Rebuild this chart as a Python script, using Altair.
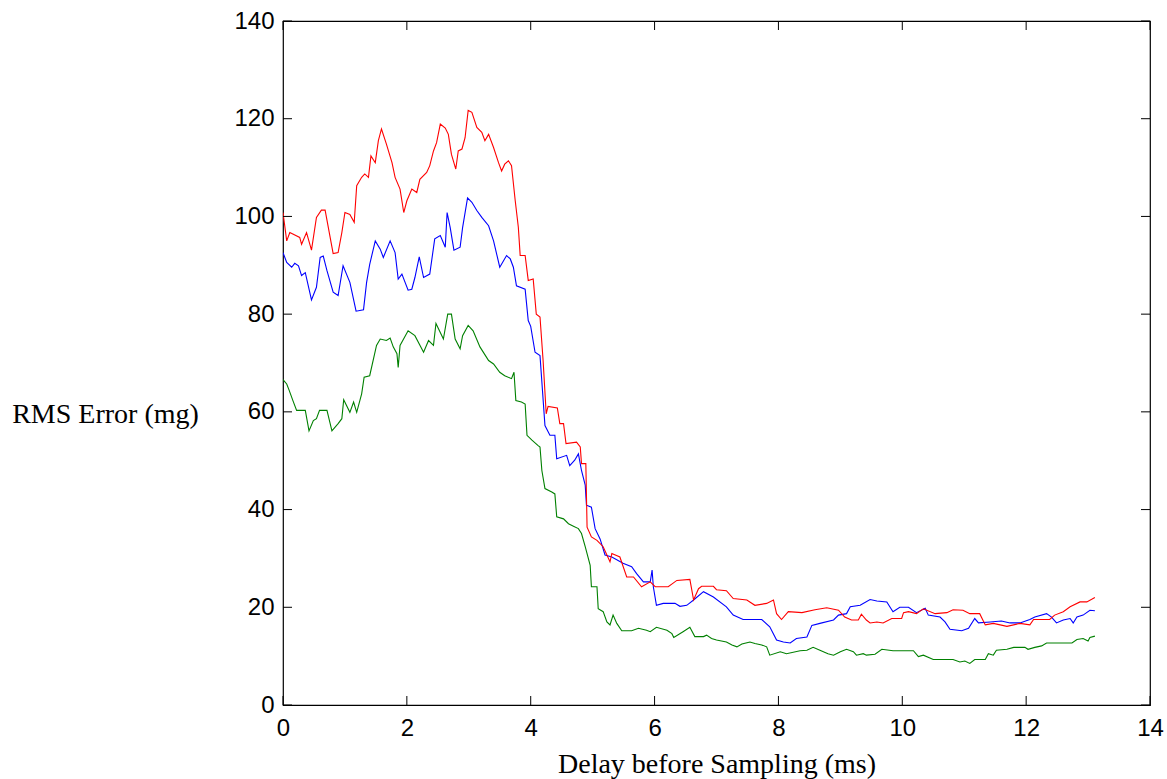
import altair as alt
import pandas as pd

# ---- data ----
red_x = [0.00, 0.06, 0.11, 0.27, 0.30, 0.38, 0.46, 0.54, 0.62, 0.68, 0.81, 0.89, 0.95, 1.00, 1.08, 1.15,
         1.19, 1.27, 1.32, 1.38, 1.42, 1.49, 1.54, 1.59, 1.67, 1.76, 1.81, 1.89, 1.95, 2.00, 2.08, 2.16,
         2.21, 2.32, 2.37, 2.43, 2.48, 2.54, 2.62, 2.67, 2.72, 2.79, 2.83, 2.89, 2.94, 2.99, 3.05, 3.13,
         3.21, 3.26, 3.32, 3.40, 3.48, 3.53, 3.58, 3.64, 3.69, 3.75, 3.80, 3.83, 3.91, 3.96, 4.04, 4.09,
         4.15, 4.20, 4.25, 4.28, 4.43, 4.47, 4.53, 4.57, 4.74, 4.80, 4.82, 4.89, 4.91, 4.98, 5.07, 5.17,
         5.28, 5.31, 5.44, 5.55, 5.66, 5.79, 5.93, 6.01, 6.22, 6.36, 6.57, 6.63, 6.71, 6.76, 6.95, 7.00,
         7.16, 7.27, 7.49, 7.62, 7.81, 7.92, 7.97, 8.05, 8.16, 8.38, 8.59, 8.78, 8.97, 9.07, 9.18, 9.29,
         9.34, 9.42, 9.48, 9.59, 9.69, 9.83, 9.99, 10.02, 10.10, 10.23, 10.34, 10.53, 10.72, 10.82, 10.98,
         11.09, 11.25, 11.34, 11.47, 11.69, 11.90, 12.06, 12.12, 12.38, 12.46, 12.60, 12.71, 12.87, 12.98, 13.11]
red_y = [100.8, 95.0, 96.7, 95.7, 94.3, 96.7, 93.1, 99.8, 101.3, 101.3, 92.4, 92.6, 96.7, 100.8, 100.4, 98.8,
         106.3, 108.0, 108.7, 108.0, 112.4, 111.0, 115.5, 117.9, 114.8, 111.0, 108.0, 105.6, 100.8, 103.2, 105.6, 104.9,
         107.6, 109.0, 110.4, 113.4, 115.1, 118.9, 118.1, 116.8, 112.7, 109.7, 113.4, 113.8, 116.1, 121.7, 121.3, 118.2,
         117.2, 115.5, 116.8, 114.1, 111.0, 109.3, 110.7, 111.4, 110.4, 103.2, 97.8, 92.0, 92.0, 86.9, 87.2, 80.0,
         79.4, 70.5, 59.6, 61.1, 60.8, 57.6, 57.6, 53.5, 53.8, 52.8, 49.4, 49.4, 36.4, 34.4, 33.7, 32.4,
         29.3, 31.0, 30.3, 26.2, 26.2, 24.2, 25.2, 24.2, 24.2, 25.5, 25.7, 21.5, 23.8, 24.3, 24.3, 23.6,
         23.4, 21.8, 21.5, 20.4, 20.8, 21.5, 18.7, 17.5, 19.1, 18.9, 19.5, 19.9, 19.4, 18.0, 17.4, 17.4,
         18.6, 17.4, 16.8, 17.0, 16.8, 17.7, 17.7, 18.9, 19.1, 18.7, 19.7, 18.7, 18.9, 19.5, 19.4,
         18.7, 18.7, 16.4, 16.7, 16.1, 16.7, 16.4, 17.5, 17.5, 18.4, 19.1, 20.1, 21.1, 21.1, 22.0]

blue_x = [0.00, 0.06, 0.14, 0.19, 0.25, 0.30, 0.36, 0.46, 0.54, 0.60, 0.65, 0.71, 0.81, 0.89, 0.97, 1.08,
          1.18, 1.30, 1.35, 1.40, 1.49, 1.57, 1.62, 1.73, 1.81, 1.86, 1.92, 2.02, 2.08, 2.13, 2.20, 2.27,
          2.37, 2.45, 2.54, 2.62, 2.65, 2.70, 2.76, 2.86, 2.90, 2.98, 3.05, 3.13, 3.21, 3.32, 3.40, 3.50,
          3.61, 3.67, 3.72, 3.77, 3.91, 3.96, 4.00, 4.07, 4.15, 4.23, 4.31, 4.39, 4.42, 4.58, 4.63, 4.71,
          4.77, 4.82, 4.88, 4.90, 4.98, 5.04, 5.12, 5.20, 5.31, 5.49, 5.63, 5.71, 5.82, 5.93, 5.96, 5.98,
          6.03, 6.14, 6.33, 6.41, 6.52, 6.63, 6.79, 6.95, 7.16, 7.27, 7.43, 7.73, 7.86, 7.97, 8.08, 8.19,
          8.29, 8.46, 8.54, 8.67, 8.89, 8.97, 9.10, 9.16, 9.32, 9.48, 9.59, 9.75, 9.85, 9.96, 10.10, 10.23,
          10.37, 10.42, 10.61, 10.69, 10.77, 10.96, 11.07, 11.17, 11.23, 11.42, 11.60, 11.74, 11.90, 12.06,
          12.14, 12.33, 12.41, 12.49, 12.60, 12.71, 12.76, 12.82, 12.92, 13.03, 13.11]
blue_y = [92.6, 90.6, 89.6, 90.4, 89.9, 87.9, 88.5, 82.9, 85.5, 91.6, 91.9, 88.9, 84.5, 83.8, 89.9, 86.5,
          80.6, 80.9, 86.5, 90.2, 95.0, 93.3, 91.6, 95.0, 92.6, 87.2, 88.2, 84.9, 85.1, 87.5, 91.7, 87.5,
          88.2, 95.4, 96.1, 93.7, 100.8, 97.7, 93.1, 93.7, 97.7, 103.8, 102.9, 101.2, 99.8, 98.1, 95.0, 89.6,
          92.0, 91.3, 89.6, 85.8, 85.1, 78.7, 77.5, 72.2, 71.5, 57.2, 55.2, 55.2, 50.4, 51.1, 49.0, 50.1,
          51.4, 48.0, 45.0, 40.9, 40.5, 36.1, 34.0, 30.7, 30.3, 29.0, 28.3, 26.9, 25.2, 25.2, 27.6, 24.2,
          20.4, 20.8, 20.8, 20.2, 20.4, 21.5, 23.2, 22.1, 20.1, 18.4, 17.5, 17.5, 16.0, 13.3, 12.9, 12.7,
          13.6, 13.9, 16.3, 16.7, 17.4, 18.4, 18.7, 20.1, 20.4, 21.6, 21.3, 21.1, 19.1, 20.0, 20.0, 18.9,
          19.8, 18.4, 18.0, 17.0, 15.5, 15.2, 15.7, 17.7, 16.8, 17.0, 17.2, 16.8, 16.8, 17.5,
          18.0, 18.7, 18.0, 16.8, 17.4, 17.7, 16.8, 18.0, 18.4, 19.4, 19.3]

green_x = [0.00, 0.06, 0.10, 0.16, 0.22, 0.36, 0.42, 0.49, 0.54, 0.59, 0.71, 0.79, 0.89, 0.95, 0.98, 1.08,
           1.14, 1.19, 1.27, 1.31, 1.40, 1.51, 1.57, 1.67, 1.73, 1.78, 1.84, 1.86, 1.89, 2.02, 2.13, 2.27,
           2.35, 2.43, 2.47, 2.59, 2.66, 2.72, 2.78, 2.86, 2.90, 2.99, 3.07, 3.18, 3.32, 3.40, 3.50, 3.58,
           3.69, 3.73, 3.76, 3.85, 3.91, 3.94, 4.02, 4.12, 4.15, 4.18, 4.23, 4.34, 4.39, 4.42, 4.53, 4.61,
           4.69, 4.77, 4.82, 4.88, 4.96, 4.98, 5.07, 5.09, 5.17, 5.23, 5.28, 5.33, 5.39, 5.47, 5.63, 5.74,
           5.87, 5.93, 6.03, 6.20, 6.28, 6.31, 6.46, 6.57, 6.65, 6.79, 6.84, 6.92, 7.00, 7.16, 7.25, 7.33,
           7.41, 7.54, 7.62, 7.73, 7.81, 7.86, 8.03, 8.13, 8.35, 8.46, 8.56, 8.67, 8.80, 8.89, 9.00, 9.10,
           9.21, 9.26, 9.37, 9.42, 9.56, 9.67, 9.85, 10.18, 10.26, 10.34, 10.50, 10.82, 10.93, 11.01, 11.09,
           11.17, 11.34, 11.39, 11.47, 11.52, 11.69, 11.80, 11.98, 12.03, 12.14, 12.25, 12.33, 12.74, 12.82,
           12.92, 13.00, 13.03, 13.11]
green_y = [66.6, 65.7, 64.4, 62.3, 60.3, 60.3, 56.1, 58.2, 58.6, 60.3, 60.3, 56.1, 57.6, 58.6, 62.5, 59.9,
           62.0, 59.9, 63.7, 67.1, 67.4, 73.6, 74.9, 74.6, 75.1, 73.3, 71.9, 69.1, 73.6, 76.6, 75.6, 72.2,
           74.6, 73.6, 78.1, 74.9, 80.0, 80.0, 74.9, 72.9, 75.6, 77.7, 76.6, 73.3, 70.5, 69.8, 68.1, 67.4,
           66.8, 68.1, 62.3, 62.0, 61.6, 55.2, 54.2, 53.1, 52.8, 48.0, 44.3, 43.6, 43.2, 38.5, 38.1, 37.1,
           36.6, 36.1, 35.1, 32.4, 28.6, 24.2, 24.2, 19.7, 19.1, 17.0, 16.4, 18.4, 16.7, 15.2, 15.2, 15.7,
           15.3, 15.0, 15.9, 15.3, 14.6, 13.8, 15.0, 15.9, 14.0, 14.0, 14.3, 13.6, 13.3, 12.9, 12.3, 11.9,
           12.5, 12.9, 12.6, 12.3, 11.9, 10.2, 10.9, 10.5, 11.1, 11.2, 11.8, 11.2, 10.5, 10.2, 10.9, 11.4,
           10.9, 10.2, 10.5, 10.2, 10.4, 11.4, 11.1, 11.1, 9.9, 10.2, 9.3, 9.3, 8.8, 9.0, 8.5,
           9.3, 9.3, 10.5, 10.2, 11.2, 11.4, 11.8, 11.8, 11.4, 11.8, 12.1, 12.7, 12.7, 13.4,
           13.6, 13.1, 13.8, 14.1]

series_names = ["green", "blue", "red"]
series_colors = ["#008000", "#0000ff", "#ff0000"]
x_ticks = [0, 2, 4, 6, 8, 10, 12, 14]
y_ticks = [0, 20, 40, 60, 80, 100, 120, 140]

rows = []
for name, xs, ys in [("green", green_x, green_y), ("blue", blue_x, blue_y), ("red", red_x, red_y)]:
    for i, (a, b) in enumerate(zip(xs, ys)):
        rows.append({"series": name, "t": a, "v": b, "order": i})
df = pd.DataFrame(rows)

W, H = 867, 684
TL = 9  # tick length in px

xscale = alt.Scale(domain=[0, 14], nice=False, zero=False)
yscale = alt.Scale(domain=[0, 140], nice=False, zero=False)

xaxis = alt.Axis(values=x_ticks, title="Delay before Sampling (ms)", titleY=67,
                 titleBaseline="alphabetic", labelPadding=11, labelFlush=False)
yaxis = alt.Axis(values=y_ticks, title="RMS Error (mg)", titleAngle=0, titleX=-178,
                 titleY=401, titleAlign="center", titleBaseline="alphabetic",
                 labelPadding=9, labelFlush=False)

lines = alt.Chart(df).mark_line(strokeWidth=1.1, clip=True).encode(
    x=alt.X("t:Q", scale=xscale, axis=xaxis),
    y=alt.Y("v:Q", scale=yscale, axis=yaxis),
    color=alt.Color("series:N", scale=alt.Scale(domain=series_names, range=series_colors), legend=None),
    order="order:Q",
)

xt = pd.DataFrame({"t": x_ticks})
yt = pd.DataFrame({"v": y_ticks})

bottom_ticks = alt.Chart(xt).mark_rule(color="black", strokeWidth=1).encode(
    x=alt.X("t:Q", scale=xscale, axis=xaxis), y=alt.value(H), y2=alt.value(H - TL))
top_ticks = alt.Chart(xt).mark_rule(color="black", strokeWidth=1).encode(
    x=alt.X("t:Q", scale=xscale, axis=xaxis), y=alt.value(0), y2=alt.value(TL))
left_ticks = alt.Chart(yt).mark_rule(color="black", strokeWidth=1).encode(
    y=alt.Y("v:Q", scale=yscale, axis=yaxis), x=alt.value(0), x2=alt.value(TL))
right_ticks = alt.Chart(yt).mark_rule(color="black", strokeWidth=1).encode(
    y=alt.Y("v:Q", scale=yscale, axis=yaxis), x=alt.value(W), x2=alt.value(W - TL))

chart = alt.layer(lines, bottom_ticks, top_ticks, left_ticks, right_ticks).properties(
    width=W, height=H,
    autosize=alt.AutoSizeParams(type="none"),
    padding={"left": 283, "top": 21, "right": 17, "bottom": 74},
    background="white",
).configure_view(
    stroke="black", strokeWidth=1.2
).configure_axis(
    ticks=False, domain=False, grid=False,
    labelFont="Liberation Sans", labelFontSize=24, labelColor="black",
    titleFont="Liberation Serif", titleFontSize=28, titleFontWeight="normal", titleColor="black",
)

chart.save("out.html", embed_options={"renderer": "svg", "actions": False})
